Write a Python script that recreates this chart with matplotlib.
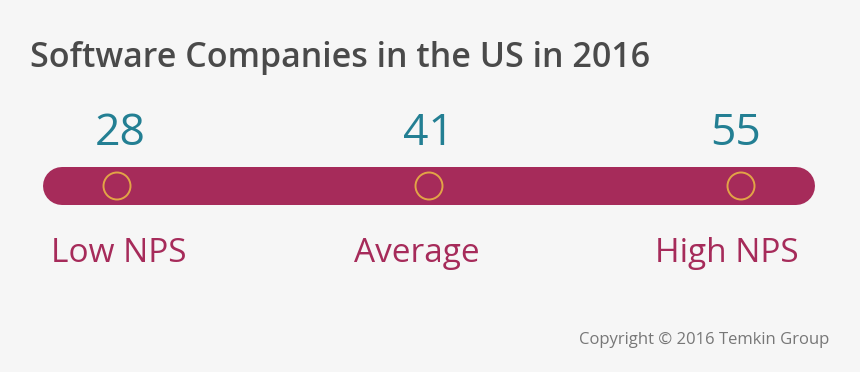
import matplotlib.pyplot as plt
import numpy as np

# chart data
scores = [28, 41, 55]
labels = ["Low NPS", "Average", "High NPS"]
title = "Software Companies in the US in 2016"
credit = "Copyright \u00a9 2016 Temkin Group"

bg = "#f6f6f6"
bar_color = "#a62b5a"
ring_color = "#e2a446"
num_color = "#237f93"

plt.rcParams["font.family"] = ["Open Sans", "DejaVu Sans"]

fig = plt.figure(figsize=(8.6, 3.72), dpi=100, facecolor=bg)
ax = fig.add_axes([0, 0, 1, 1])
ax.set_facecolor(bg)
ax.axis("off")

# one unit on x = spacing between markers (312 px), y in pixels from the top
ax.set_xlim(-117 / 312, (860 - 117) / 312)
ax.set_ylim(372, 0)

x = np.arange(len(scores))
bar_y = 186
num_shift = [0.01, -0.003, -0.016]
label_shift = [0.005, -0.038, -0.045]  # labels sit slightly left of markers

# rounded track
ax.plot([x[0] - 0.176, x[-1] + 0.176], [bar_y, bar_y], color=bar_color,
        linewidth=38 * 72 / 100, solid_capstyle="round", zorder=1)

# markers
ax.scatter(x, [bar_y] * len(x), s=(27 * 72 / 100) ** 2, facecolor="none",
           edgecolor=ring_color, linewidth=1.4, zorder=2)

for xi, val, lab, nx, dx in zip(x, scores, labels, num_shift, label_shift):
    ax.text(xi + nx, 134, str(val), ha="center", va="center", fontsize=32,
            color=num_color)
    ax.text(xi + dx, 254, lab, ha="center", va="center", fontsize=24,
            color=bar_color)

fig.text(30 / 860, 1 - 58 / 372, title, ha="left", va="center",
         fontsize=24.5, fontweight="semibold", color="#4a4a4a")
fig.text(829 / 860, 1 - 340 / 372, credit, ha="right", va="center",
         fontsize=12, color="#777777")

fig.savefig("out.png", dpi=100, facecolor=bg)
